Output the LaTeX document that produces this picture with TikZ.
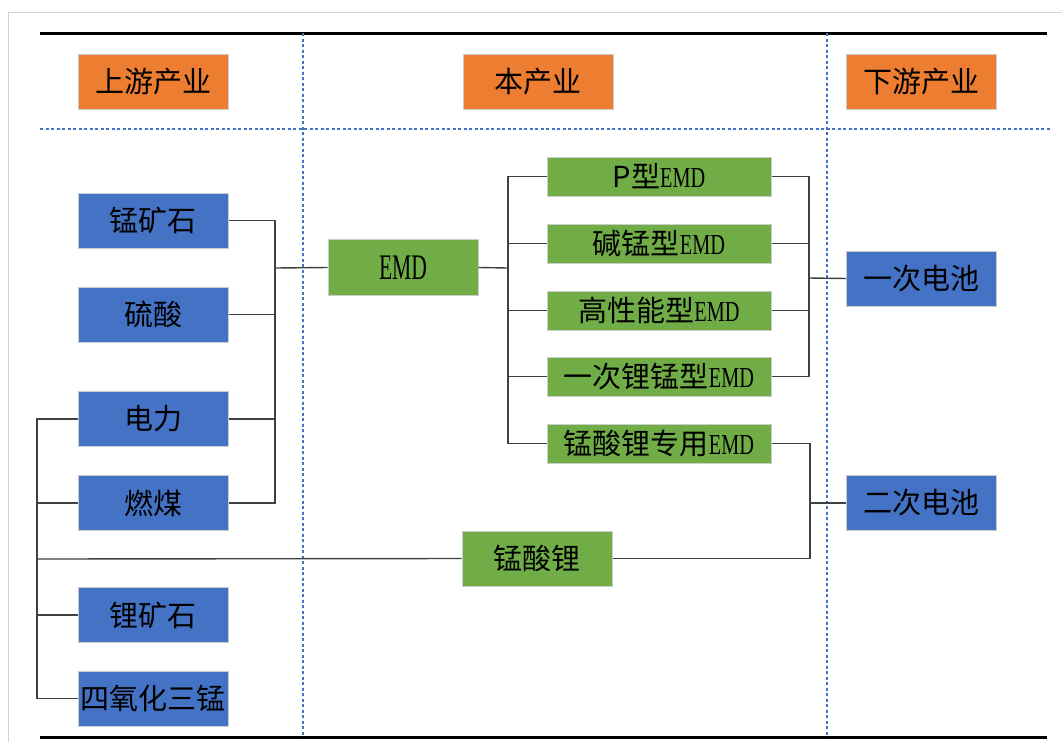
\documentclass[tikz,border=0pt]{standalone}
\usepackage{fontspec}
\setmainfont{Liberation Serif}
\newfontfamily\cjk{Noto Sans CJK SC}
\newfontfamily\emdfont[FakeStretch=0.7]{Liberation Serif}
\newfontfamily\emdnarrow[FakeStretch=0.6]{Liberation Serif}
\newcommand{\EMDtxt}{{\emdfont EMD}}
\usepackage{tikz}
\usetikzlibrary{calc}

\definecolor{hdorange}{HTML}{ED7D31}
\definecolor{hdblue}{HTML}{4472C4}
\definecolor{hdgreen}{HTML}{70AD47}
\definecolor{linkgray}{HTML}{404040}

\tikzset{
	box/.style = {draw = gray!40, line width = 1pt, inner sep = 0pt, minimum width = 150pt, minimum height = 55pt, font = \fontsize{29}{34}\selectfont\cjk},
	headbox/.style = {box, fill = hdorange},
	bluebox/.style = {box, fill = hdblue},
	greenbox/.style = {box, fill = hdgreen},
	subbox/.style = {greenbox, minimum width = 224pt, minimum height = 39pt},
	link/.style = {draw = linkgray, line width = 1.4pt},
	divider/.style = {draw = hdblue, line width = 2.4pt, dash pattern = on 3pt off 2.5pt}
}

\begin{document}
\begin{tikzpicture}[x = 1pt, y = -1pt]
		\def\top{33};
		\def\bot{737};
		\def\colA{303};
		\def\colB{827};

		\useasboundingbox (0,0) rectangle (1062,742);

		% frame and rules
		\draw [gray!35, line width = 1pt] (8,742) -- (8,12) -- (1062,12);
		\draw [black, line width = 3pt] (40,\top) -- (1047,\top);
		\draw [black, line width = 3pt] (40,\bot) -- (1047,\bot);

		\draw [divider] (\colA,\top) -- (\colA,\bot);
		\draw [divider] (\colB,\top) -- (\colB,\bot);
		\draw [divider] (40,129) -- (1052,129);

		% headings
		\node [headbox] (up) at (153,81.5) {上游产业};
		\node [headbox] (mid) at (538,81.5) {本产业};
		\node [headbox] (down) at (921.5,81.5) {下游产业};

		% upstream
		\node [bluebox] (ore) at (153,220.5) {锰矿石};
		\node [bluebox] (acid) at (153,314.5) {硫酸};
		\node [bluebox] (power) at (153,419) {电力};
		\node [bluebox] (coal) at (153,503) {燃煤};
		\node [bluebox] (liore) at (153,615) {锂矿石};
		\node [bluebox] (mnox) at (153,698.5) {四氧化三锰};

		% this industry
		\node [greenbox, minimum height = 56pt] (emd) at (403,267.5) {\fontsize{36}{38}\selectfont\emdnarrow EMD};
		\node [subbox] (s1) at (659,176.5) {\cjk P型\EMDtxt};
		\node [subbox] (s2) at (659,243.5) {碱锰型\EMDtxt};
		\node [subbox] (s3) at (659,310.5) {高性能型\EMDtxt};
		\node [subbox] (s4) at (659,376.5) {一次锂锰型\EMDtxt};
		\node [subbox] (s5) at (659,443.5) {锰酸锂专用\EMDtxt};
		\node [greenbox] (lmo) at (537,558.5) {锰酸锂};

		% downstream
		\node [bluebox] (prim) at (921.5,278.5) {一次电池};
		\node [bluebox] (sec) at (921.5,503) {二次电池};

		\coordinate (jL) at (275,268);
		\coordinate (jM) at (508,268);
		\coordinate (jR) at (809,278);
		\coordinate (jS) at (810,503);
		\coordinate (jB) at (37,559);

		% upstream to EMD
		\draw [link] (ore.east) -- (ore.east -| jL) |- (coal.east);
		\draw [link] (acid.east) -- (acid.east -| jL);
		\draw [link] (power.east) -- (power.east -| jL);
		\draw [link] (jL) -- (emd.west);

		% EMD to grades
		\draw [link] (emd.east) -- (jM);
		\draw [link] (s1.west) -- (s1.west -| jM) |- (s5.west);
		\foreach \s in {s2, s3, s4}
			\draw [link] (\s.west) -- (\s.west -| jM);

		% grades to batteries
		\draw [link] (s1.east) -- (s1.east -| jR) |- (s4.east);
		\foreach \s in {s2, s3}
			\draw [link] (\s.east) -- (\s.east -| jR);
		\draw [link] (jR) -- (prim.west);

		\draw [link] (power.west) -- (power.west -| jB) |- (mnox.west);
		\draw [link] (coal.west) -- (coal.west -| jB);
		\draw [link] (liore.west) -- (liore.west -| jB);
		\draw [link] (jB) -- (lmo.west);
		\draw [link] (s5.east) -| (jS) |- (lmo.east);
		\draw [link] (jS) -- (sec.west);
	\end{tikzpicture}
\end{document}
